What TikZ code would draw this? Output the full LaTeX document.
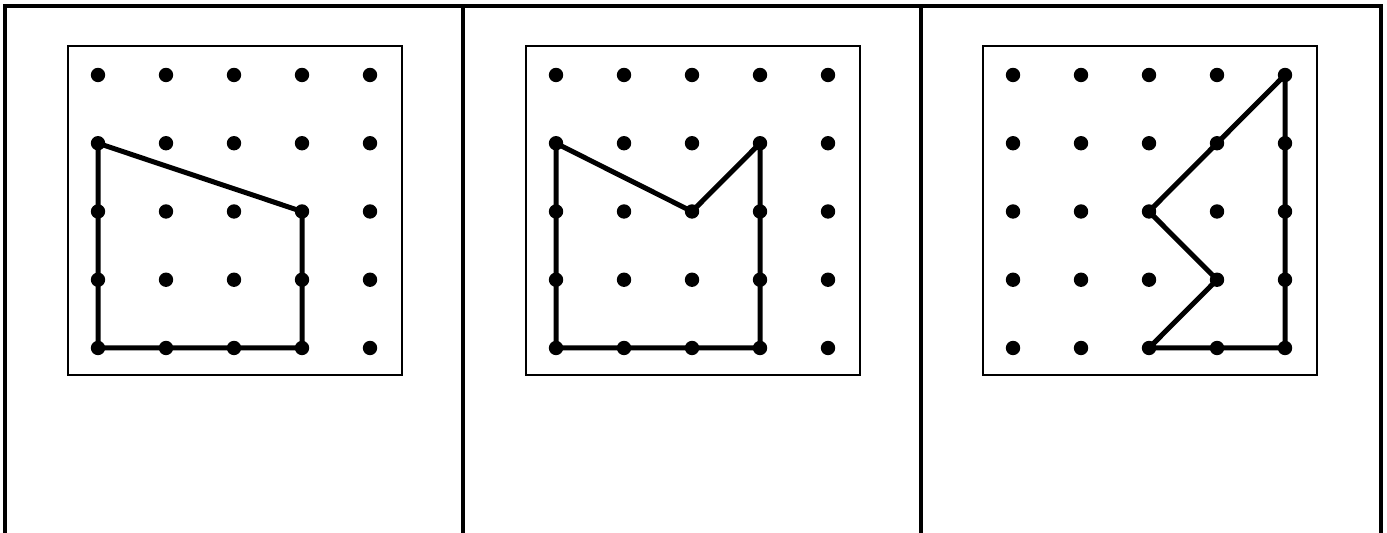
\documentclass[tikz,border=0pt]{standalone}
\usetikzlibrary{positioning}
\tikzstyle{peg} = [circle, fill=black, inner sep=0pt, minimum size=7.2pt]
\tikzstyle{board} = [draw, line width=0.8pt, inner sep=0pt, minimum width=167pt, minimum height=164.5pt]
\tikzstyle{band} = [line width=2.5pt, line join=round]
\tikzstyle{frame} = [line width=1.6pt]

\begin{document}
\begin{tikzpicture}[x=0.5pt, y=-0.5pt]
        \useasboundingbox (0,0) rectangle (1387,533);

        % Outer frame and dividers
        \coordinate (tl) at (5,6);
        \coordinate (tr) at (1381,6);
        \draw[frame] (5,533) -- (tl) -- (tr) -- (1381,533);
        \draw[frame] (463,6) -- (463,533);
        \draw[frame] (921,6) -- (921,533);

        % Boards with 5x5 pegs
        \foreach \p/\dx in {a/0, b/458, c/915} {
            \node[board] (board-\p) at ({235+\dx},210.5) {};
            \foreach \i in {0,...,4}
                \foreach \j in {0,...,4}
                    \node[peg] (\p-\i-\j) at ({98+\dx+68*\i},{75+68.25*\j}) {};
        }

        % First shape
        \draw[band] (a-0-1.center) -- (a-3-2.center) -- (a-3-4.center) -- (a-0-4.center) -- cycle;

        % Second shape
        \draw[band] (b-0-1.center) -- (b-2-2.center) -- (b-3-1.center) -- (b-3-4.center) -- (b-0-4.center) -- cycle;

        % Third shape
        \draw[band] (c-4-0.center) -- (c-4-4.center) -- (c-2-4.center) -- (c-3-3.center) -- (c-2-2.center) -- cycle;
    \end{tikzpicture}
\end{document}
